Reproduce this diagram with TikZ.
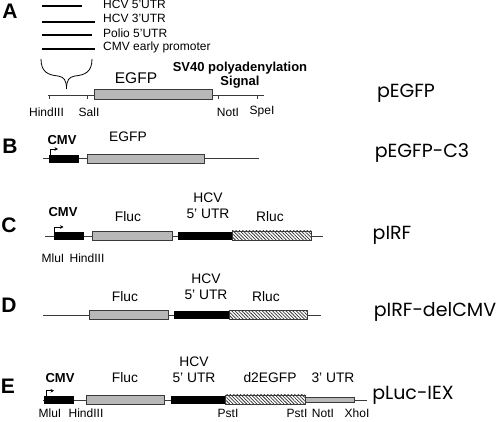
\documentclass[tikz,border=0pt]{standalone}
\usepackage{fontspec}
\setmainfont{Liberation Sans}
\newfontfamily\geofont{Poppins}
\usetikzlibrary{arrows.meta,patterns.meta}
\definecolor{linegray}{HTML}{3A3A3A}
\definecolor{boxgray}{HTML}{B8B8B8}
\newcommand\plbox[6]{\node[#1, minimum width={(#4-#3)*1pt}, minimum height={#6*1pt}] (#2) at ({(#3+#4)/2},#5) {};}
\tikzset{
  backbone/.style={draw=linegray, line width=0.9pt},
  tick/.style={draw=linegray, line width=0.8pt},
  listline/.style={draw=black, line width=1.3pt},
  boxbase/.style={rectangle, draw=linegray, line width=0.7pt, inner sep=0pt, outer sep=0pt},
  graybox/.style={boxbase, fill=boxgray},
  blackbox/.style={boxbase, draw=black, fill=black},
  hatchbox/.style={boxbase, preaction={fill=white}, pattern={Lines[angle=-45,distance=2.4pt,line width=0.75pt]}, pattern color=black!80},
  promoter/.style={draw=black, line width=0.8pt, -{Stealth[length=3.5pt,width=3.5pt]}},
  sm/.style={font=\fontsize{12}{14}\selectfont, inner sep=0pt},
  md/.style={font=\fontsize{13.8}{16}\selectfont, inner sep=0pt, align=center},
  bd/.style={font=\bfseries\fontsize{13}{14.5}\selectfont, inner sep=0pt, align=center},
  panel/.style={font=\bfseries\fontsize{21}{24}\selectfont, inner sep=0pt},
  plname/.style={font=\geofont\fontsize{19}{22}\selectfont, inner sep=0pt},
}
\begin{document}
\begin{tikzpicture}[x=1pt,y=-1pt]
\useasboundingbox (0,0) rectangle (496,422);
% ---------------- Panel A ----------------
\node[panel] (labA) at (10,11) {A};
\draw[listline] (42,6) coordinate (l1a) -- (82,6) coordinate (l1b);
\draw[listline] (42,22) coordinate (l2a) -- (95,22) coordinate (l2b);
\draw[listline] (42,35) coordinate (l3a) -- (92,35) coordinate (l3b);
\draw[listline] (42,49) coordinate (l4a) -- (95,49) coordinate (l4b);
\node[sm, anchor=west] (t1) at (103,4) {HCV 5'UTR};
\node[sm, anchor=west] (t2) at (103,18.5) {HCV 3'UTR};
\node[sm, anchor=west] (t3) at (103,33) {Polio 5'UTR};
\node[sm, anchor=west] (t4) at (103,47.5) {CMV early promoter};
\draw[black, line width=0.8pt] (41,59) .. controls (41,72) and (48,75) .. (58,76) .. controls (64,77) and (66.5,80) .. (66.5,89);
\draw[black, line width=0.8pt] (92,59) .. controls (92,72) and (85,75) .. (75,76) .. controls (69,77) and (66.5,80) .. (66.5,89);
\coordinate (aS) at (48,95.5);
\coordinate (aE) at (264,95.5);
\draw[backbone] (aS) -- (aE);
\foreach \tx in {49,87,218,257} \draw[tick] (\tx,95.5) -- (\tx,99.5);
\plbox{graybox}{egfpA}{94}{212}{94.5}{10}
\node[md, font=\fontsize{15.5}{18}\selectfont] (egfpAt) at (136,78) {EGFP};
\node[bd] (sv40) at (240,75) {SV40 polyadenylation\\Signal};
\node[sm] (hindA) at (46.5,112) {HindIII};
\node[sm] (salA) at (89,112) {SalI};
\node[sm] (notA) at (228,112) {NotI};
\node[sm] (speA) at (262,112) {SpeI};
\node[plname] (pA) at (406,93) {pEGFP};
% ---------------- Panel B ----------------
\node[panel] (labB) at (10,146) {B};
\coordinate (bS) at (43,158);
\coordinate (bE) at (259,158);
\draw[backbone] (bS) -- (bE);
\plbox{blackbox}{cmvB}{49}{78}{158.5}{7}
\plbox{graybox}{egfpB}{87}{204}{158.5}{9}
\draw[promoter] ([xshift=1pt]cmvB.north west) |- ++(8,-6);
\node[bd] (cmvBt) at (62,140) {CMV};
\node[md] (egfpBt) at (128,137) {EGFP};
\node[plname] (pB) at (422,153) {pEGFP-C3};
% ---------------- Panel C ----------------
\node[panel] (labC) at (9,225) {C};
\coordinate (cS) at (45,236);
\coordinate (cE) at (323,236);
\draw[backbone] (cS) -- (cE);
\plbox{blackbox}{cmvC}{54}{83}{235.5}{7}
\plbox{graybox}{flucC}{92}{172}{235.5}{9}
\plbox{blackbox}{hcvC}{178}{232}{235.5}{7}
\plbox{hatchbox}{rlucC}{232}{311}{235.5}{9}
\draw[promoter] ([xshift=0.5pt]cmvC.north west) |- ++(9,-5);
\node[bd] (cmvCt) at (63,212) {CMV};
\node[md] (flucCt) at (128,217) {Fluc};
\node[md] (hcvCt) at (208,206) {HCV\\5' UTR};
\node[md] (rlucCt) at (270,217) {Rluc};
\node[sm] (mluC) at (53,258) {MluI};
\node[sm] (hindC) at (87,258) {HindIII};
\node[plname] (pC) at (392,235) {pIRF};
% ---------------- Panel D ----------------
\node[panel] (labD) at (9,305) {D};
\coordinate (dS) at (43,315);
\coordinate (dE) at (321,315);
\draw[backbone] (dS) -- (dE);
\plbox{graybox}{flucD}{89}{168}{315}{9}
\plbox{blackbox}{hcvD}{174}{229}{315}{7}
\plbox{hatchbox}{rlucD}{229}{307}{315}{9}
\node[md] (flucDt) at (125,297) {Fluc};
\node[md] (hcvDt) at (206,287) {HCV\\5' UTR};
\node[md] (rlucDt) at (266,297) {Rluc};
\node[plname] (pD) at (435,312) {pIRF-delCMV};
% ---------------- Panel E ----------------
\node[panel] (labE) at (8,386) {E};
\coordinate (eS) at (43,400);
\coordinate (eE) at (367,400);
\draw[backbone] (eS) -- (eE);
\plbox{blackbox}{cmvE}{44}{73}{400}{6.5}
\plbox{graybox}{flucE}{86}{164}{399.5}{9}
\plbox{blackbox}{hcvE}{171}{225}{400}{6.5}
\plbox{hatchbox}{d2E}{225}{305}{399.5}{9}
\plbox{graybox}{utrE}{305}{354}{399.5}{5}
\draw[promoter] ([xshift=2pt]cmvE.north west) |- ++(8,-6);
\node[bd] (cmvEt) at (60,378) {CMV};
\node[md] (flucEt) at (125,378) {Fluc};
\node[md] (hcvEt) at (194,370) {HCV\\5' UTR};
\node[md] (d2Et) at (270,378) {d2EGFP};
\node[md] (utrEt) at (333,378) {3' UTR};
\node[sm] (mluE) at (50,413) {MluI};
\node[sm] (hindE) at (86,413) {HindIII};
\node[sm] (pst1E) at (228,413) {PstI};
\node[sm] (pst2E) at (297,413) {PstI};
\node[sm] (notE) at (323,413) {NotI};
\node[sm] (xhoE) at (357,413) {XhoI};
\node[plname] (pE) at (413,395) {pLuc-IEX};
\end{tikzpicture}
\end{document}
